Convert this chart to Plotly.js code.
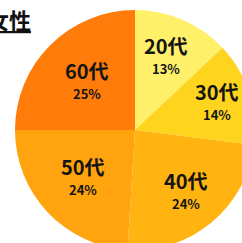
<!DOCTYPE html>
<html>
<head>
<meta charset="utf-8">
<script src="https://cdn.plot.ly/plotly-3.0.1.min.js"></script>
<style>
html,body{margin:0;padding:0;overflow:hidden;background:#fff;width:242px;height:243px;}
#chart{width:260px;height:260px;}
</style>
</head>
<body>
<div id="chart"></div>
<script>
// Data
const labels = ["20代", "30代", "40代", "50代", "60代"];
const values = [13, 14, 24, 24, 25];
const colors = ["#FFF06A", "#FFD41E", "#FFB412", "#FFA30E", "#FF7C0A"];
const titleText = "女性";

// Layout geometry (pixels within a 260x260 plot)
const W = 260, H = 260;
const cx = 135, cy = 130, R = 120;
const labelRadius = [0.66, 0.72, 0.67, 0.59, 0.57];

const total = values.reduce((a, b) => a + b, 0);
const annotations = [];
let cum = 0;
values.forEach((v, i) => {
  const mid = (cum + v / 2) / total * 2 * Math.PI;
  cum += v;
  const px = cx + Math.sin(mid) * R * labelRadius[i];
  const py = cy - Math.cos(mid) * R * labelRadius[i];
  annotations.push({
    x: px / W, y: 1 - (py - 11.5) / H, xref: "paper", yref: "paper",
    text: "<b>" + labels[i] + "</b>", showarrow: false,
    font: {family: "Noto Sans CJK JP", size: 20, color: "#141414"},
    xanchor: "center", yanchor: "middle"
  });
  annotations.push({
    x: px / W, y: 1 - (py + 11.5) / H, xref: "paper", yref: "paper",
    text: "<b>" + Math.round(v / total * 100) + "%</b>", showarrow: false,
    font: {family: "Noto Sans CJK JP", size: 13, color: "#141414"},
    xanchor: "center", yanchor: "middle"
  });
});
annotations.push({
  x: 33 / W, y: 1 - 1 / H, xref: "paper", yref: "paper",
  text: "<b><u>" + titleText + "</u></b>", showarrow: false,
  font: {family: "Noto Sans CJK JP", size: 22, color: "#111"},
  xanchor: "right", yanchor: "top"
});

const trace = {
  type: "pie",
  labels: labels,
  values: values,
  sort: false,
  direction: "clockwise",
  rotation: 0,
  textinfo: "none",
  hoverinfo: "none",
  marker: {colors: colors, line: {width: 0}},
  domain: {x: [(cx - R) / W, (cx + R) / W], y: [1 - (cy + R) / H, 1 - (cy - R) / H]},
  showlegend: false
};

Plotly.newPlot("chart", [trace], {
  width: W, height: H,
  margin: {l: 0, r: 0, t: 0, b: 0},
  paper_bgcolor: "#fff", plot_bgcolor: "#fff",
  showlegend: false,
  annotations: annotations
}, {staticPlot: true, displayModeBar: false});
</script>
</body>
</html>
